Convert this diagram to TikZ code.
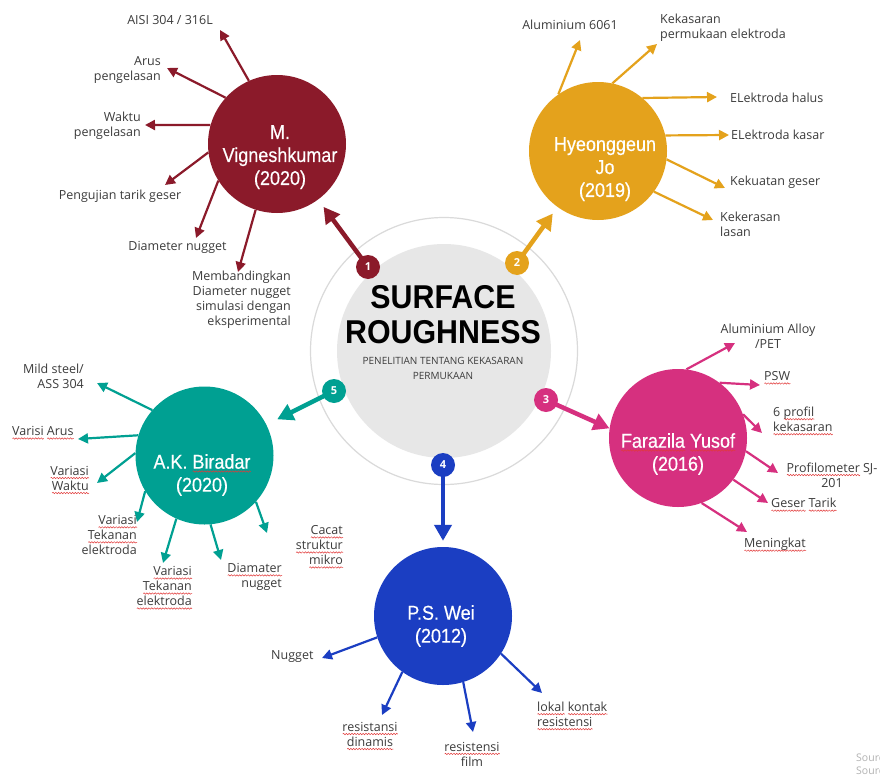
\documentclass[tikz,border=0pt]{standalone}
\usepackage{fontspec}
\setmainfont{Open Sans}
\newfontfamily\titlefont[FakeStretch=0.9,FakeBold=0.4]{Liberation Sans}
\newfontfamily\headfont[FakeStretch=0.92]{Liberation Sans}
\usetikzlibrary{arrows.meta,backgrounds,decorations.pathmorphing}
\definecolor{cRed}{HTML}{8B1A2A}
\definecolor{cGold}{HTML}{E4A21C}
\definecolor{cPink}{HTML}{D6307F}
\definecolor{cBlue}{HTML}{1B3EC2}
\definecolor{cTeal}{HTML}{00A092}
\definecolor{diskgray}{HTML}{E7E7E7}
\definecolor{ringgray}{HTML}{DADADA}
\definecolor{lbl}{HTML}{3C3C3C}
\definecolor{sqred}{HTML}{E23A3A}
\newsavebox\sqbox
\newcommand\sq[1]{\sbox\sqbox{#1}\leavevmode\rlap{\tikz[x=1pt,y=1pt,baseline=0pt]\draw[sqred,line width=0.5pt,decorate,decoration={snake,amplitude=0.7pt,segment length=2.8pt}] (0,-2.8) -- (\the\wd\sqbox,-2.8);}\usebox\sqbox}
\begin{document}
\begin{tikzpicture}[x=1pt,y=-1pt,
  maincirc/.style={circle, inner sep=0pt, minimum size=138pt},
  ctext/.style={anchor=north, inner sep=0pt, text=white, align=center, font=\titlefont\fontsize{20}{23}\selectfont},
  badge/.style={circle, inner sep=0pt, minimum size=24pt, text=white, font=\bfseries\fontsize{11}{11}\selectfont},
  lab/.style={inner sep=0pt, text=lbl, font=\fontsize{12.5}{15}\selectfont},
  arrThin/.style={line width=2.2pt, -{Triangle[length=10pt,width=10pt]}},
  arrThick/.style={line width=4.5pt, -{Triangle[length=16pt,width=17pt]}}]
\useasboundingbox (0,0) rectangle (880,776);
\clip (0,0) rectangle (880,776);

% main circles
\node[maincirc, fill=cRed]  (c1) at (277,144) {};
\node[maincirc, fill=cGold] (c2) at (598,151) {};
\node[maincirc, fill=cPink] (c3) at (678,438) {};
\node[maincirc, fill=cBlue] (c4) at (443,616) {};
\node[maincirc, fill=cTeal] (c5) at (204.5,455.5) {};

\node[ctext] (t1) at (280,125) {M.\\Vigneshkumar\\(2020)};
\node[ctext] (t2) at (605,137) {Hyeonggeun\\Jo\\(2019)};
\node[ctext] (t3) at (678,433) {\sq{Farazila} \sq{Yusof}\\(2016)};
\node[ctext] (t4) at (441,605) {P.S. Wei\\(2012)};
\node[ctext] (t5) at (202,454) {A.K. \sq{Biradar}\\(2020)};

% center title
\node[anchor=base, inner sep=0pt, font=\headfont\bfseries\fontsize{33}{33}\selectfont] (h1) at (443,308) {SURFACE};
\node[anchor=base, inner sep=0pt, font=\headfont\bfseries\fontsize{33}{33}\selectfont] (h2) at (443,343) {ROUGHNESS};
\node[anchor=base, inner sep=0pt, text=lbl, font=\fontsize{10}{10}\selectfont] (h3) at (443,364) {PENELITIAN TENTANG KEKASARAN};
\node[anchor=base, inner sep=0pt, text=lbl, font=\fontsize{10}{10}\selectfont] (h4) at (443,379) {PERMUKAAN};

% badges
\node[badge, fill=cRed]  (b1) at (368,267) {1};
\node[badge, fill=cGold] (b2) at (517,263) {2};
\node[badge, fill=cPink] (b3) at (546,400) {3};
\node[badge, fill=cBlue] (b4) at (443,465) {4};
\node[badge, fill=cTeal] (b5) at (334,391) {5};

% labels circle 1
\node[lab] (l11) at (170,20) {AISI 304 / 316L};
\node[lab, anchor=east, align=right] (l12) at (161,70) {Arus\\pengelasan};
\node[lab, anchor=east, align=right] (l13) at (141,126) {Waktu\\pengelasan};
\node[lab] (l14) at (120,196) {Pengujian tarik geser};
\node[lab] (l15) at (177.5,247) {Diameter nugget};
\node[lab, anchor=east, align=right] (l16) at (291,300) {Membandingkan\\Diameter nugget\\simulasi dengan\\eksperimental};
% labels circle 2
\node[lab] (l21) at (570,25) {Aluminium 6061};
\node[lab, anchor=west, align=left] (l22) at (660,28) {Kekasaran\\permukaan elektroda};
\node[lab, anchor=west] (l23) at (730,98) {ELektroda halus};
\node[lab, anchor=west] (l24) at (731,135) {ELektroda kasar};
\node[lab, anchor=west] (l25) at (730,182) {Kekuatan geser};
\node[lab, anchor=west, align=left] (l26) at (720,224) {Kekerasan\\lasan};
% labels circle 3
\node[lab, align=center] (l31) at (768,336) {Aluminium Alloy\\/PET};
\node[lab, anchor=west] (l32) at (764,378) {\sq{PSW}};
\node[lab, anchor=west, align=left] (l33) at (773,421) {6 \sq{profil}\\\sq{kekasaran}};
\node[lab, align=center] (l34) at (832,475) {\sq{Profilometer} SJ-\\201};
\node[lab, anchor=west] (l35) at (771,505) {\sq{Geser} \sq{Tarik}};
\node[lab, anchor=west] (l36) at (744,545) {\sq{Meningkat}};
% labels circle 5
\node[lab, anchor=east, align=right] (l51) at (84,376) {Mild steel/\\ASS 304};
\node[lab, anchor=west] (l52) at (12,433) {\sq{Varisi} \sq{Arus}};
\node[lab, anchor=east, align=right] (l53) at (89,480) {\sq{Variasi}\\\sq{Waktu}};
\node[lab, anchor=east, align=right] (l54) at (137,535) {\sq{Variasi}\\\sq{Tekanan}\\elektroda};
\node[lab, anchor=east, align=right] (l55) at (192,588) {\sq{Variasi}\\\sq{Tekanan}\\\sq{elektroda}};
\node[lab, anchor=east, align=right] (l56) at (282,577) {\sq{Diamater}\\nugget};
\node[lab, anchor=east, align=right] (l57) at (343,547) {\sq{Cacat}\\\sq{struktur}\\\sq{mikro}};
% labels circle 4
\node[lab, anchor=west] (l41) at (271,657) {Nugget};
\node[lab, align=center] (l42) at (370,736) {\sq{resistansi}\\\sq{dinamis}};
\node[lab, align=center] (l43) at (472,754) {\sq{resistensi}\\film};
\node[lab, anchor=west, align=left] (l44) at (537,716) {\sq{lokal} \sq{kontak}\\\sq{resistensi}};

% source (cut off at the right edge, as in the reference)
\node[anchor=west, inner sep=0pt, text=black!30, font=\fontsize{10.5}{13}\selectfont, align=left] (src) at (856,764) {Source\\Source};

% arrow end points
\coordinate (e11) at (220,30);
\coordinate (e12) at (167,68);
\coordinate (e13) at (145,125);
\coordinate (e14) at (165,185);
\coordinate (e15) at (196,238);
\coordinate (e16) at (238,272);
\coordinate (e21) at (580,40);
\coordinate (e22) at (657,44);
\coordinate (e23) at (717,97);
\coordinate (e24) at (729,135);
\coordinate (e25) at (725,188);
\coordinate (e26) at (713,220);
\coordinate (e31) at (735,343);
\coordinate (e32) at (760,385);
\coordinate (e33) at (762,433);
\coordinate (e34) at (778,473);
\coordinate (e35) at (768,503);
\coordinate (e36) at (747,532);
\coordinate (e51) at (97,383);
\coordinate (e52) at (78,439);
\coordinate (e53) at (97,483);
\coordinate (e54) at (137,522);
\coordinate (e55) at (163,563);
\coordinate (e56) at (221,560);
\coordinate (e57) at (267,533);
\coordinate (e41) at (322,658);
\coordinate (e42) at (382,715);
\coordinate (e43) at (473,732);
\coordinate (e44) at (542,693);

\begin{pgfonlayer}{background}
  \fill[white] (0,0) rectangle (880,776);
  \node[circle, inner sep=0pt, minimum size=214pt, fill=diskgray] (disk) at (444,351) {};
  \node[circle, inner sep=0pt, minimum size=267pt, draw=ringgray, line width=1.2pt] (ring) at (444,351) {};
  % thick arrows from badges
  \draw[arrThick, cRed, shorten >=9pt]  (b1.center) -- (c1);
  \draw[arrThick, cGold, shorten >=8pt]  (b2.center) -- (c2);
  \draw[arrThick, cPink] (b3.center) -- (c3.172);
  \draw[arrThick, cBlue, shorten >=6pt]  (b4.center) -- (c4);
  \draw[arrThick, cTeal, shorten >=12pt] (b5.center) -- (c5);
  % circle 1
  \draw[arrThin, cRed] (c1.114) -- (e11);
  \draw[arrThin, cRed] (c1.138) -- (e12);
  \draw[arrThin, cRed] (c1.164) -- (e13);
  \draw[arrThin, cRed] (c1.187) -- (e14);
  \draw[arrThin, cRed] (c1.212) -- (e15);
  \draw[arrThin, cRed] (c1.252) -- (e16);
  % circle 2
  \draw[arrThin, cGold] (c2.125) -- (e21);
  \draw[arrThin, cGold] (c2.78) -- (e22);
  \draw[arrThin, cGold] (c2.50) -- (e23);
  \draw[arrThin, cGold] (c2.13) -- (e24);
  \draw[arrThin, cGold] (c2.-7) -- (e25);
  \draw[arrThin, cGold] (c2.-36) -- (e26);
  % circle 3
  \draw[arrThin, cPink] (c3.83) -- (e31);
  \draw[arrThin, cPink] (c3.53) -- (e32);
  \draw[arrThin, cPink] (c3.20) -- (e33);
  \draw[arrThin, cPink] (c3.-11) -- (e34);
  \draw[arrThin, cPink] (c3.-37) -- (e35);
  \draw[arrThin, cPink] (c3.-70) -- (e36);
  % circle 5
  \draw[arrThin, cTeal] (c5.139) -- (e51);
  \draw[arrThin, cTeal] (c5.163) -- (e52);
  \draw[arrThin, cTeal] (c5.178) -- (e53);
  \draw[arrThin, cTeal] (c5.211) -- (e54);
  \draw[arrThin, cTeal] (c5.246) -- (e55);
  \draw[arrThin, cTeal] (c5.275) -- (e56);
  \draw[arrThin, cTeal] (c5.318) -- (e57);
  % circle 4
  \draw[arrThin, cBlue] (c4.198) -- (e41);
  \draw[arrThin, cBlue] (c4.234) -- (e42);
  \draw[arrThin, cBlue] (c4.287) -- (e43);
  \draw[arrThin, cBlue] (c4.-33) -- (e44);
\end{pgfonlayer}
\end{tikzpicture}
\end{document}
